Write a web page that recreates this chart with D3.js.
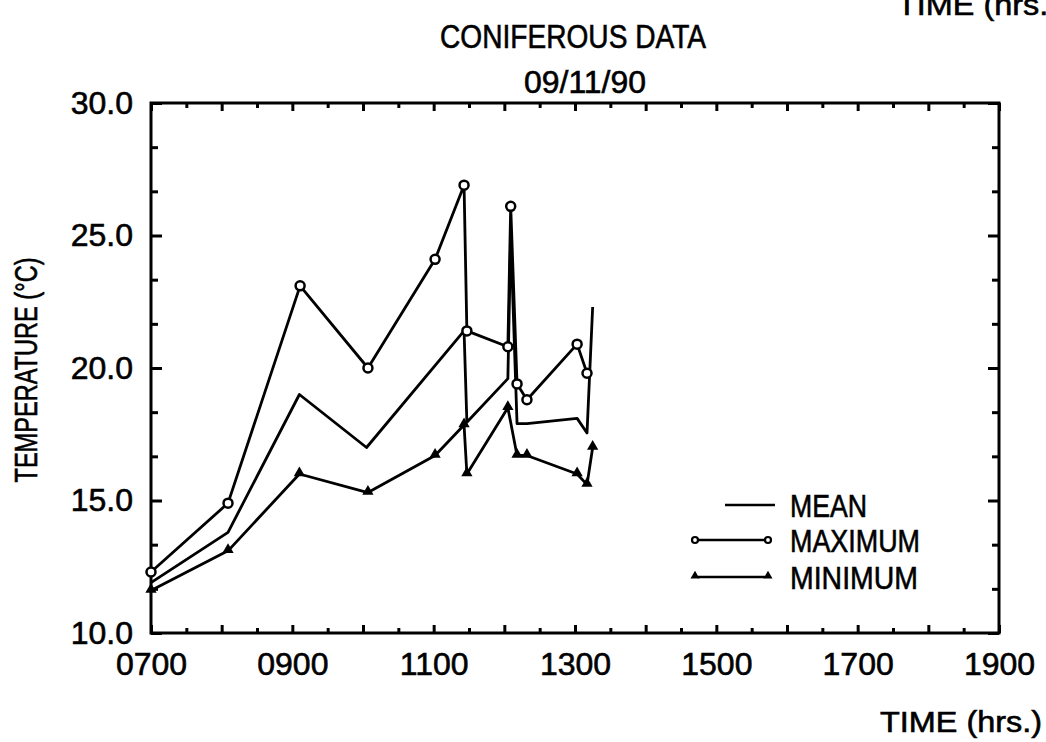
<!DOCTYPE html>
<meta charset="utf-8">
<script src="https://d3js.org/d3.v7.min.js"></script>
<style>
body { margin: 0; background: #fff; }
text { font-family: "Liberation Sans", Arial, sans-serif; fill: #000; stroke: #000; stroke-width: 0.6px; }
</style>
<body>
<script>

// readings from the picture (time in decimal hours)
var meanTimes = [7.0, 8.09, 9.10, 10.05, 11.43, 11.47, 12.05, 12.09, 12.18, 12.32, 13.03, 13.17, 13.25];
var meanTemps = [11.9, 13.8, 19.0, 17.0, 21.4, 17.95, 19.6, 25.0, 17.9, 17.9, 18.1, 17.55, 22.3];

var maxTimes = [7.0, 8.09, 9.11, 10.07, 11.02, 11.43, 11.47, 12.05, 12.09, 12.18, 12.32, 13.03, 13.17];
var maxTemps = [12.3, 14.9, 23.1, 20.0, 24.1, 26.9, 21.4, 20.8, 26.1, 19.4, 18.8, 20.9, 19.8];

var minTimes = [7.0, 8.09, 9.10, 10.07, 11.02, 11.43, 11.47, 12.05, 12.18, 12.32, 13.03, 13.17, 13.25];
var minTemps = [11.6, 13.1, 16.0, 15.3, 16.7, 17.85, 16.0, 18.5, 16.7, 16.7, 16.0, 15.6, 17.0];

var xLabelTicks = [7, 9, 11, 13, 15, 17, 19];
var yLabelTicks = [10, 15, 20, 25, 30];
var legendNames = ["MEAN", "MAXIMUM", "MINIMUM"];

function zip(ts, vs) {
  return ts.map(function(t, i) { return {t: t, v: vs[i]}; });
}
var meanData = zip(meanTimes, meanTemps);
var maxData = zip(maxTimes, maxTemps);
var minData = zip(minTimes, minTemps);

var W = 1046, H = 742;
var plotL = 151, plotR = 999, plotT = 103, plotB = 633;

var svg = d3.select("body").append("svg")
  .attr("width", W)
  .attr("height", H);

var x = d3.scaleLinear().domain([7, 19]).range([plotL, plotR]);
var y = d3.scaleLinear().domain([10, 30]).range([plotB, plotT]);

var hourFmt = function(d) { return d3.format("02d")(d) + "00"; };

// inner tick marks, all four sides
var halfHours = d3.range(7, 19.01, 0.5).filter(function(d) { return d % 1 != 0; });
var hours = d3.range(7, 19.01, 1);
var yMinor = d3.range(10, 30.01, 5 / 3).filter(function(d) { return Math.abs(d % 5) > 0.01 && Math.abs(d % 5 - 5) > 0.01; });

function tickGroup(axis, tr) {
  var g = svg.append("g").attr("transform", tr).call(axis);
  g.select(".domain").remove();
  g.selectAll("text").remove();
  g.selectAll("line").attr("stroke", "#000").attr("stroke-width", 3);
  return g;
}
tickGroup(d3.axisBottom(x).tickValues(hours).tickSize(-8), "translate(0," + plotB + ")");
tickGroup(d3.axisBottom(x).tickValues(halfHours).tickSize(-5), "translate(0," + plotB + ")");
tickGroup(d3.axisTop(x).tickValues(hours).tickSize(-8), "translate(0," + plotT + ")");
tickGroup(d3.axisTop(x).tickValues(halfHours).tickSize(-5), "translate(0," + plotT + ")");
tickGroup(d3.axisLeft(y).tickValues(yLabelTicks).tickSize(-11), "translate(" + plotL + ",0)");
tickGroup(d3.axisLeft(y).tickValues(yMinor).tickSize(-7), "translate(" + plotL + ",0)");
tickGroup(d3.axisRight(y).tickValues(yLabelTicks).tickSize(-11), "translate(" + plotR + ",0)");
tickGroup(d3.axisRight(y).tickValues(yMinor).tickSize(-7), "translate(" + plotR + ",0)");

// frame
svg.append("rect")
  .attr("x", plotL).attr("y", plotT)
  .attr("width", plotR - plotL).attr("height", plotB - plotT)
  .attr("fill", "none").attr("stroke", "#000").attr("stroke-width", 3);

// tick labels
var xAxisG = svg.append("g")
  .attr("transform", "translate(0," + plotB + ")")
  .call(d3.axisBottom(x).tickValues(xLabelTicks).tickFormat(hourFmt).tickSize(0).tickPadding(19));
xAxisG.select(".domain").remove();
xAxisG.selectAll("text").style("font-size", "32px").attr("font-family", null).attr("fill", null);

var yAxisG = svg.append("g")
  .attr("transform", "translate(" + plotL + ",0)")
  .call(d3.axisLeft(y).tickValues(yLabelTicks).tickFormat(d3.format(".1f")).tickSize(0).tickPadding(18));
yAxisG.select(".domain").remove();
yAxisG.selectAll("text").style("font-size", "32px").attr("font-family", null).attr("fill", null);

// series
var line = d3.line()
  .x(function(d) { return x(d.t); })
  .y(function(d) { return y(d.v); });

[meanData, maxData, minData].forEach(function(data) {
  svg.append("path")
    .datum(data)
    .attr("d", line)
    .attr("fill", "none")
    .attr("stroke", "#000")
    .attr("stroke-width", 2.8)
    .attr("stroke-linejoin", "round");
});

var tri = d3.symbol().type(d3.symbolTriangle);

svg.selectAll(".maxpt")
  .data(maxData)
  .enter().append("circle")
  .attr("class", "maxpt")
  .attr("cx", function(d) { return x(d.t); })
  .attr("cy", function(d) { return y(d.v); })
  .attr("r", 4.5)
  .attr("fill", "#fff")
  .attr("stroke", "#000")
  .attr("stroke-width", 2.5);

svg.selectAll(".minpt")
  .data(minData)
  .enter().append("path")
  .attr("class", "minpt")
  .attr("transform", function(d) { return "translate(" + x(d.t) + "," + (y(d.v) - 1) + ")"; })
  .attr("d", tri.size(55)())
  .attr("fill", "#000");

// titles
function label(txt, px, py, size, len, anchor) {
  return svg.append("text")
    .attr("x", px).attr("y", py)
    .attr("text-anchor", anchor || "start")
    .attr("textLength", len)
    .attr("lengthAdjust", "spacingAndGlyphs")
    .style("font-size", size + "px")
    .text(txt);
}
label("CONIFEROUS DATA", 573, 48, 33, 266, "middle");
label("09/11/90", 585, 93, 32, 122, "middle");
label("TIME (hrs.)", 880, 732, 29, 162);
label("TIME (hrs.)", 897, 15, 29, 162);

svg.append("text")
  .attr("transform", "translate(37,370) rotate(-90)")
  .attr("text-anchor", "middle")
  .attr("textLength", 225)
  .attr("lengthAdjust", "spacingAndGlyphs")
  .style("font-size", "31px")
  .text("TEMPERATURE (\u00b0C)");

// legend
var legY = [505, 540, 577];
var legTextLen = [77, 130, 128];
legendNames.forEach(function(name, i) {
  label(name, 790, legY[i] + 12, 32, legTextLen[i]);
});
svg.append("line")
  .attr("x1", 725).attr("x2", 775).attr("y1", legY[0]).attr("y2", legY[0])
  .attr("stroke", "#000").attr("stroke-width", 2.5);
svg.append("line")
  .attr("x1", 698).attr("x2", 765).attr("y1", legY[1]).attr("y2", legY[1])
  .attr("stroke", "#000").attr("stroke-width", 2.5);
svg.append("line")
  .attr("x1", 698).attr("x2", 765).attr("y1", legY[2]).attr("y2", legY[2])
  .attr("stroke", "#000").attr("stroke-width", 2.5);
svg.selectAll(".legc")
  .data([695, 768])
  .enter().append("circle")
  .attr("cx", function(d) { return d; })
  .attr("cy", legY[1])
  .attr("r", 3)
  .attr("fill", "#fff").attr("stroke", "#000").attr("stroke-width", 2.2);
svg.selectAll(".legt")
  .data([695, 768])
  .enter().append("path")
  .attr("transform", function(d) { return "translate(" + d + "," + (legY[2] - 1) + ")"; })
  .attr("d", tri.size(35)())
  .attr("fill", "#000");

</script>
</body>
